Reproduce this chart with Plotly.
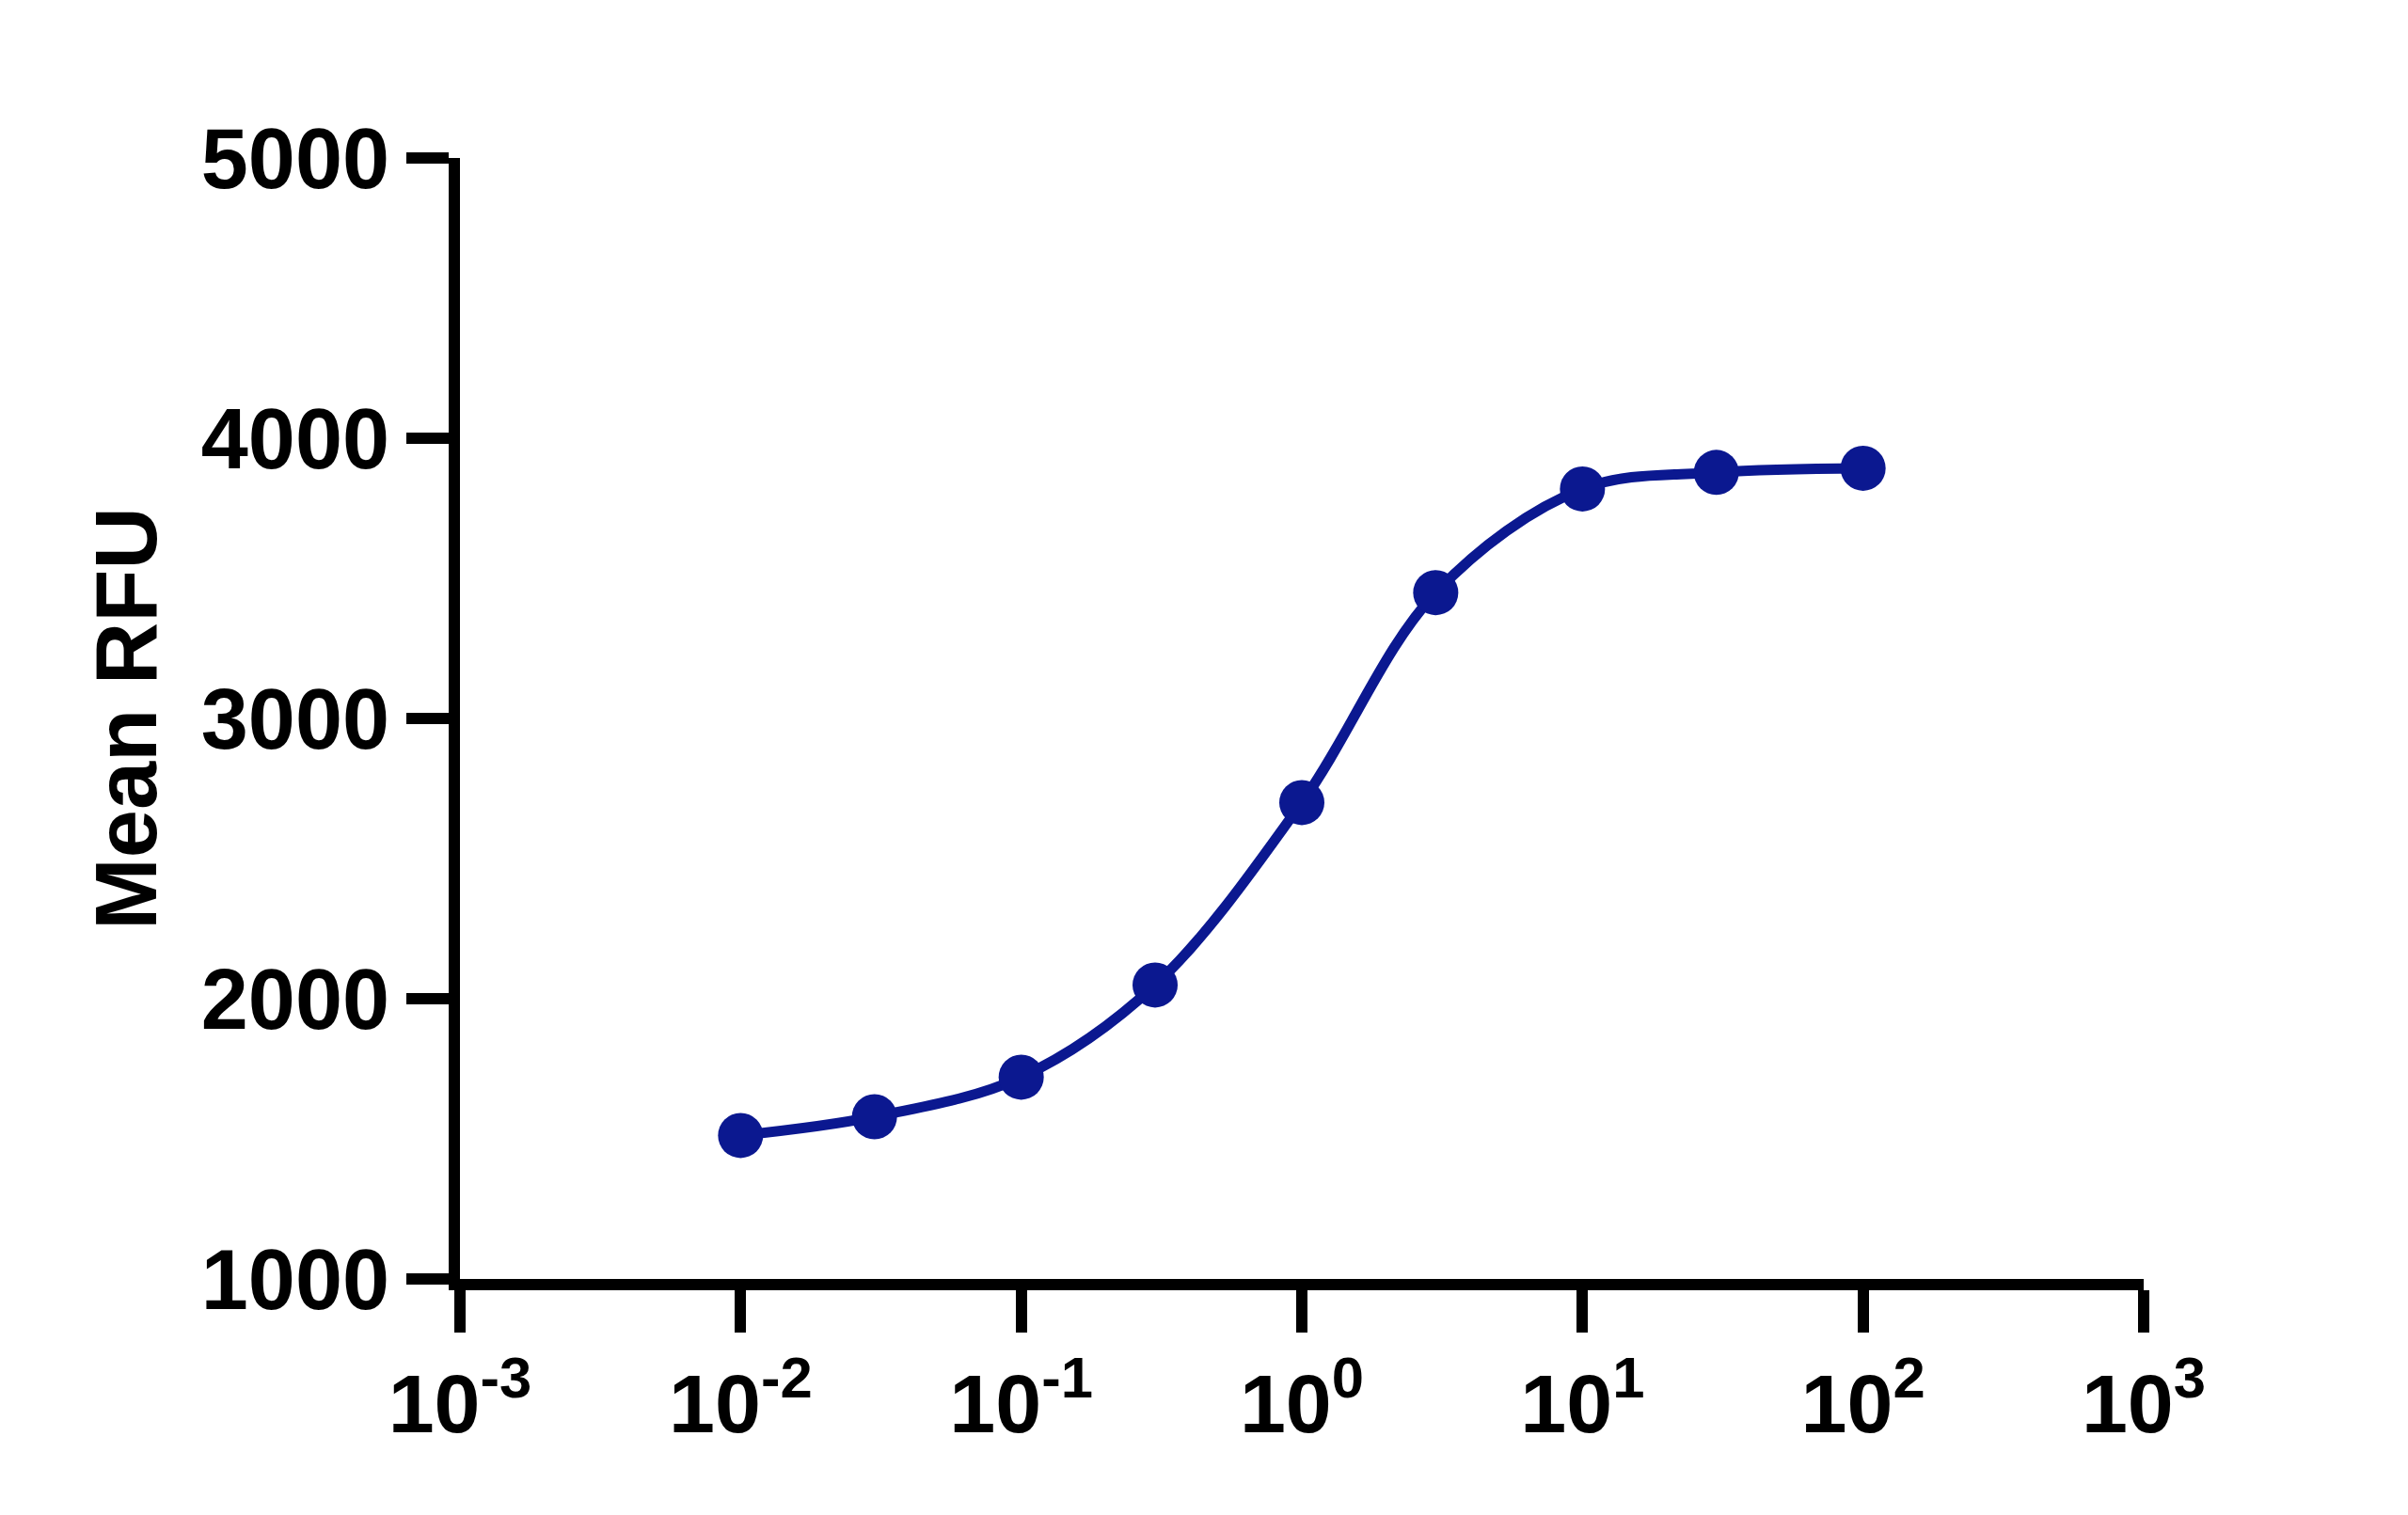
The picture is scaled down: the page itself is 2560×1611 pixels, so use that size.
import plotly.graph_objects as go

# concentration series (log x) and mean RFU
conc = [0.01, 0.03, 0.1, 0.3, 1, 3, 10, 30, 100]
mean_rfu = [1512, 1579, 1720, 2049, 2700, 3449, 3819, 3878, 3893]

x_ticks = [1e-3, 1e-2, 1e-1, 1e0, 1e1, 1e2, 1e3]
x_ticktext = ['10<sup>-3</sup>', '10<sup>-2</sup>', '10<sup>-1</sup>', '10<sup>0</sup>',
              '10<sup>1</sup>', '10<sup>2</sup>', '10<sup>3</sup>']
y_ticks = [1000, 2000, 3000, 4000, 5000]

navy = '#0b1890'
font_family = 'Liberation Sans, Arial, sans-serif'

fig = go.Figure()

# smooth fitted curve through the points
fig.add_trace(go.Scatter(
    x=conc, y=mean_rfu,
    mode='lines',
    line=dict(color=navy, width=11, shape='spline', smoothing=1.0),
    hoverinfo='skip',
    showlegend=False,
))

fig.add_trace(go.Scatter(
    x=conc, y=mean_rfu,
    mode='markers',
    marker=dict(color=navy, size=48),
    showlegend=False,
))

# page body adds ~8px, margins are trimmed to match
fig.update_layout(
    width=2560, height=1611,
    plot_bgcolor='white', paper_bgcolor='white',
    margin=dict(l=481, r=289, t=160, b=259),
    font=dict(family=font_family, color='black'),
)

fig.update_xaxes(
    type='log', range=[-3, 3],
    tickvals=x_ticks, ticktext=x_ticktext,
    tickfont=dict(size=88, weight='bold'),
    showline=True, linewidth=12, linecolor='black',
    ticks='outside', ticklen=45, tickwidth=12, tickcolor='black',
    showgrid=False, zeroline=False,
)

fig.update_yaxes(
    range=[1000, 5000],
    tickvals=y_ticks,
    tickfont=dict(size=90, weight='bold'),
    showline=True, linewidth=12, linecolor='black',
    ticks='outside', ticklen=45, tickwidth=12, tickcolor='black',
    showgrid=False, zeroline=False,
    title=dict(text='Mean RFU', font=dict(size=92, weight='bold'), standoff=22),
)

fig.write_html('out.html')
